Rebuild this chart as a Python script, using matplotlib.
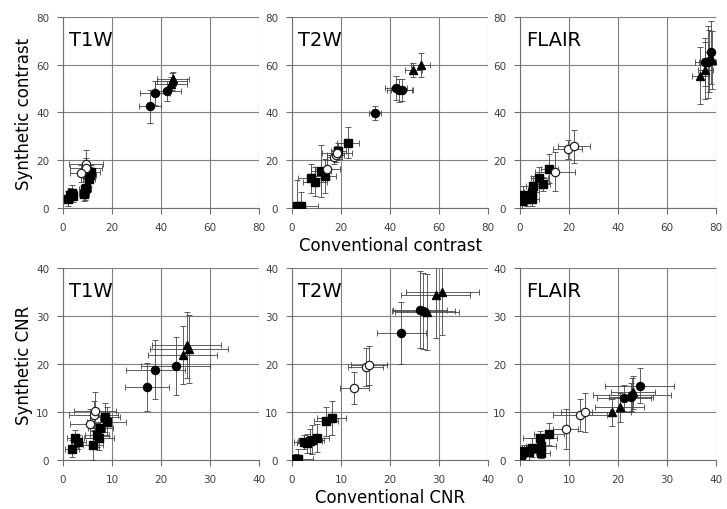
import matplotlib
matplotlib.use('Agg')
import matplotlib.pyplot as plt

plt.rcParams.update({
    'font.family': 'DejaVu Sans',
    'axes.linewidth': 0.8,
})

# ── data: (conventional, synthetic, x error, y error) ──────────
# contrast, T1W
t1_con_sq = [(2.0, 4.0, 1.5, 3.0), (3.0, 5.5, 1.5, 3.0), (3.5, 6.5, 2.0, 3.0),
             (4.0, 5.0, 1.5, 2.5), (8.5, 6.0, 2.0, 3.0), (9.0, 8.0, 2.5, 4.5),
             (9.5, 8.5, 2.0, 3.0), (10.5, 12.0, 2.5, 3.0), (11.0, 14.0, 2.5, 3.0),
             (11.5, 15.0, 3.5, 3.0)]
t1_con_oc = [(9.5, 18.3, 7.0, 6.0), (9.3, 16.8, 6.5, 4.0), (7.3, 14.5, 4.5, 3.5)]
t1_con_fc = [(35.5, 42.5, 4.5, 7.0), (37.5, 48.0, 6.0, 5.0), (42.5, 49.0, 5.5, 4.0)]
t1_con_tr = [(44.0, 52.0, 6.5, 3.0), (44.5, 53.0, 6.0, 3.5), (45.0, 54.0, 6.5, 3.0)]

# contrast, T2W
t2_con_sq = [(1.9, 0.7, 3.0, 11.0), (3.7, 0.7, 7.0, 6.0), (7.6, 12.4, 5.0, 6.0),
             (9.4, 11.1, 5.0, 6.0), (11.8, 15.6, 4.0, 11.0), (13.5, 13.5, 4.5, 7.0),
             (18.9, 23.9, 3.0, 3.5), (22.7, 27.4, 4.5, 6.5)]
t2_con_oc = [(14.4, 16.3, 5.0, 4.0), (17.3, 21.5, 3.0, 3.0), (17.8, 22.2, 3.5, 3.0),
             (18.3, 23.0, 6.0, 3.0)]
t2_con_fc = [(33.9, 39.7, 2.5, 3.0), (42.3, 50.3, 4.5, 5.0), (43.8, 49.2, 5.0, 5.0),
             (45.0, 49.3, 4.5, 4.5)]
t2_con_tr = [(49.5, 57.9, 3.5, 3.0), (52.5, 60.0, 4.0, 5.0)]

# contrast, FLAIR
fl_con_sq = [(0.7, 3.0, 1.5, 3.0), (1.1, 5.4, 1.5, 4.0), (2.7, 4.0, 2.5, 3.0),
             (4.8, 3.8, 3.0, 3.0), (4.8, 6.8, 3.0, 3.5), (5.4, 9.3, 3.0, 4.0),
             (7.8, 12.8, 3.5, 4.5), (9.3, 10.0, 3.0, 3.0), (12.0, 16.5, 3.5, 6.0)]
fl_con_oc = [(14.3, 15.3, 8.0, 8.0), (19.5, 24.6, 6.0, 4.0), (22.2, 25.8, 6.5, 7.0)]
fl_con_fc = [(75.6, 61.1, 4.0, 10.0), (76.6, 61.2, 3.5, 15.0), (77.3, 61.4, 3.0, 13.0),
             (78.0, 65.1, 2.5, 13.0)]
fl_con_tr = [(73.6, 55.4, 3.5, 12.0), (75.6, 57.6, 3.0, 12.0), (78.5, 62.0, 2.0, 12.0)]

# CNR, T1W
t1_cnr_sq = [(1.8, 2.4, 1.5, 1.8), (2.4, 4.5, 1.5, 1.8), (3.1, 3.7, 1.5, 1.5),
             (6.1, 3.1, 2.0, 3.0), (6.9, 5.2, 2.5, 2.5), (7.3, 4.5, 3.0, 2.5),
             (7.6, 6.6, 2.5, 2.5), (8.6, 8.9, 3.0, 3.0), (8.9, 8.0, 4.0, 3.0)]
t1_cnr_oc = [(5.5, 7.6, 4.0, 3.0), (6.3, 9.3, 5.0, 3.0), (6.5, 10.1, 4.3, 4.0)]
t1_cnr_fc = [(17.1, 15.1, 4.5, 5.0), (18.8, 18.8, 6.0, 6.2), (23.0, 19.6, 7.0, 6.0)]
t1_cnr_tr = [(24.4, 21.9, 7.0, 6.0), (25.2, 23.9, 7.0, 6.8), (25.7, 23.1, 8.0, 7.0)]

# CNR, T2W
t2_cnr_sq = [(0.9, 0.2, 1.0, 1.0), (1.3, 0.2, 3.0, 2.0), (2.5, 3.7, 2.0, 1.5),
             (3.0, 3.5, 2.0, 2.0), (3.7, 3.9, 2.5, 2.5), (4.0, 4.2, 2.5, 3.0),
             (5.0, 4.6, 2.5, 3.0), (6.9, 8.1, 2.5, 3.0), (8.1, 8.75, 3.0, 3.5)]
t2_cnr_oc = [(12.7, 15.0, 3.0, 3.3), (15.0, 19.3, 3.5, 4.0), (15.7, 19.7, 3.7, 4.0)]
t2_cnr_fc = [(22.3, 26.4, 5.0, 6.5), (26.1, 31.3, 5.5, 8.0), (26.8, 31.0, 6.5, 8.0)]
t2_cnr_tr = [(27.5, 30.8, 6.5, 8.0), (29.3, 34.4, 7.0, 9.0), (30.7, 35.0, 7.5, 9.0)]

# CNR, FLAIR
fl_cnr_sq = [(0.3, 1.0, 1.0, 1.2), (0.8, 1.9, 1.5, 1.2), (1.8, 1.6, 1.5, 1.5),
             (2.5, 2.6, 2.0, 2.0), (4.1, 4.5, 3.5, 1.5), (4.2, 1.4, 2.0, 1.0),
             (4.3, 3.0, 3.0, 1.5), (5.9, 5.4, 3.0, 2.3)]
fl_cnr_oc = [(9.3, 6.5, 2.5, 4.2), (12.2, 9.4, 5.5, 3.3), (13.3, 9.9, 5.0, 4.0)]
fl_cnr_fc = [(21.2, 12.9, 5.5, 2.7), (22.7, 13.1, 4.5, 3.0), (24.4, 15.5, 7.0, 3.7),
             (22.9, 13.5, 8.0, 3.5)]
fl_cnr_tr = [(18.7, 9.9, 4.0, 2.8), (20.4, 11.0, 5.0, 3.0), (23.1, 14.1, 4.5, 3.4)]

PANEL_TITLES = ['T1W', 'T2W', 'FLAIR']
CONTRAST_TICKS = [0, 20, 40, 60, 80]
CNR_TICKS = [0, 10, 20, 30, 40]

contrast_sets = [
    (t1_con_sq, t1_con_oc, t1_con_fc, t1_con_tr),
    (t2_con_sq, t2_con_oc, t2_con_fc, t2_con_tr),
    (fl_con_sq, fl_con_oc, fl_con_fc, fl_con_tr),
]
cnr_sets = [
    (t1_cnr_sq, t1_cnr_oc, t1_cnr_fc, t1_cnr_tr),
    (t2_cnr_sq, t2_cnr_oc, t2_cnr_fc, t2_cnr_tr),
    (fl_cnr_sq, fl_cnr_oc, fl_cnr_fc, fl_cnr_tr),
]

# marker styles: squares, open circles, filled circles, triangles
STYLES = [
    dict(marker='s', ms=6.0, mfc='black', mec='black'),
    dict(marker='o', ms=6.0, mfc='white', mec='#222222', mew=0.9),
    dict(marker='o', ms=5.8, mfc='black', mec='black'),
    dict(marker='^', ms=5.8, mfc='black', mec='black'),
]

GRID_C = '#808080'
TICK_C = '#404040'

fig = plt.figure(figsize=(7.27, 5.10), dpi=100)
fig.patch.set_facecolor('white')

lefts = [0.0867, 0.4017, 0.7153]
w = 0.2696


def draw_panel(ax, groups, ticks, title):
    lim = ticks[-1]
    for pts, st in zip(groups, STYLES):
        xs = [p[0] for p in pts]
        ys = [p[1] for p in pts]
        xe = [p[2] for p in pts]
        ye = [p[3] for p in pts]
        ax.errorbar(xs, ys, xerr=xe, yerr=ye, fmt='none', ecolor='#444444',
                    elinewidth=0.6, capsize=2.2, capthick=0.6, zorder=3)
        ax.plot(xs, ys, linestyle='none', zorder=4, **st)
    ax.set_xlim(0, lim)
    ax.set_ylim(0, lim)
    ax.set_xticks(ticks)
    ax.set_yticks(ticks)
    ax.grid(True, color=GRID_C, linewidth=0.8)
    ax.set_axisbelow(True)
    for s in ['top', 'right']:
        ax.spines[s].set_visible(False)
    for s in ['left', 'bottom']:
        ax.spines[s].set_color('#707070')
    ax.tick_params(direction='out', length=4, width=0.8, color='#707070',
                   labelsize=7.5, labelcolor=TICK_C, pad=6)
    ax.text(0.03, 0.88, title, transform=ax.transAxes, fontsize=14,
            ha='left', va='center', color='black', zorder=5)


for i in range(3):
    ax = fig.add_axes([lefts[i], 0.590, w, 0.375])
    draw_panel(ax, contrast_sets[i], CONTRAST_TICKS, PANEL_TITLES[i])
    if i == 0:
        ax.set_ylabel('Synthetic contrast', fontsize=12, labelpad=2)
    if i == 1:
        ax.set_xlabel('Conventional contrast', fontsize=12, labelpad=3)

for i in range(3):
    ax = fig.add_axes([lefts[i], 0.096, w, 0.377])
    draw_panel(ax, cnr_sets[i], CNR_TICKS, PANEL_TITLES[i])
    if i == 0:
        ax.set_ylabel('Synthetic CNR', fontsize=12, labelpad=2)
    if i == 1:
        ax.set_xlabel('Conventional CNR', fontsize=12, labelpad=3)

fig.savefig('out.png', dpi=100, facecolor='white')
plt.close(fig)
